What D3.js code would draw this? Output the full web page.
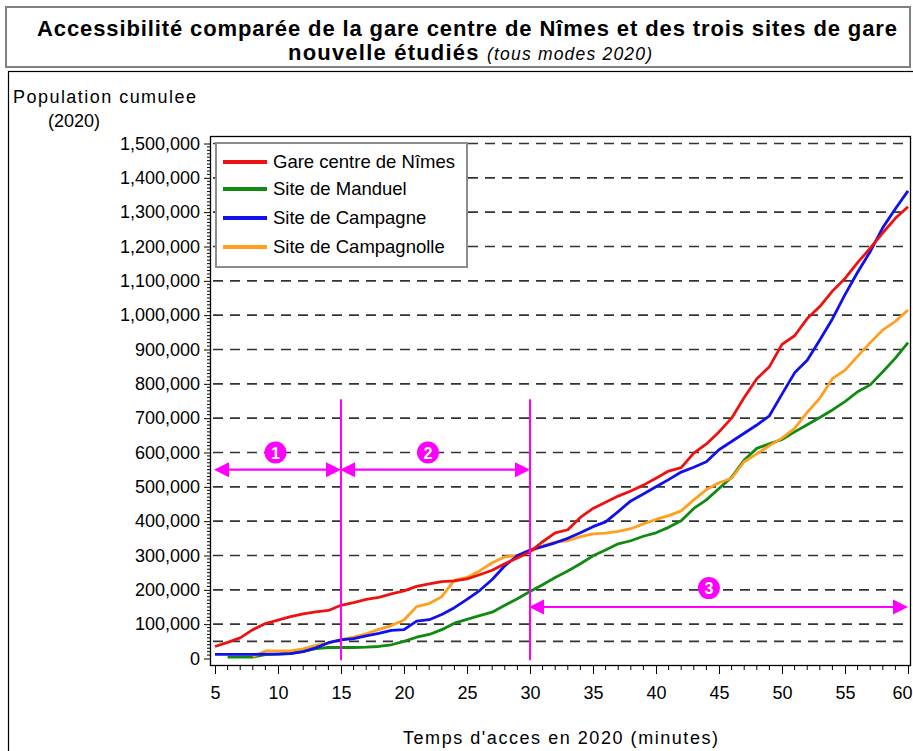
<!DOCTYPE html>
<html><head><meta charset="utf-8">
<script src="https://cdn.jsdelivr.net/npm/d3@7"></script>
<style>
html,body{margin:0;padding:0;background:#fff;}
svg{display:block;font-family:"Liberation Sans",Arial,sans-serif;}
</style></head>
<body>
<svg id="chart" width="913" height="751"></svg>
<script>
// ---- data ----
const minutes = [5,6,7,8,9,10,11,12,13,14,15,16,17,18,19,20,21,22,23,24,25,26,27,28,29,30,31,32,33,34,35,36,37,38,39,40,41,42,43,44,45,46,47,48,49,50,51,52,53,54,55,56,57,58,59,60];
const gareNimes = [35,47,60,84,102,112,122,130,136,140,155,163,172,178,188,197,210,217,224,226,232,244,257,276,293,311,340,366,375,411,437,455,473,488,505,525,546,556,598,625,660,700,760,815,850,915,940,990,1025,1070,1107,1153,1195,1240,1282,1316];
const manduel = [null,4,4,4,11,13,15,21,29,32,32,32,33,35,40,50,62,70,84,103,114,125,135,155,174,195,215,236,255,276,299,316,334,343,356,366,382,401,437,462,495,528,578,612,625,638,660,681,702,724,748,777,797,835,875,920];
const campagne = [12,12,12,12,13,13,14,20,31,46,54,58,66,73,82,84,109,113,128,148,172,198,230,270,300,316,326,337,350,366,384,398,428,459,479,500,521,543,557,573,608,632,656,680,707,770,832,869,928,989,1060,1125,1185,1255,1310,1362];
const campagnolle = [null,null,null,5,22,22,22,28,38,45,55,62,72,85,96,112,151,160,180,228,236,255,279,296,300,311,328,339,343,355,363,365,370,378,392,405,416,430,462,492,512,525,573,596,620,642,670,717,758,815,840,880,920,957,982,1015];
const seriesNames = ["Gare centre de Nîmes","Site de Manduel","Site de Campagne","Site de Campagnolle"];
const seriesColors = ["#ee1111","#108a10","#1010ee","#ffa020"];
const seriesValues = [gareNimes, manduel, campagne, campagnolle];
const yTicks = [0,100000,200000,300000,400000,500000,600000,700000,800000,900000,1000000,1100000,1200000,1300000,1400000,1500000];
const gridValues = [50000,100000,200000,300000,400000,500000,600000,700000,800000,900000,1000000,1100000,1200000,1300000,1400000,1500000];
const xTicks = [5,10,15,20,25,30,35,40,45,50,55,60];
const zoneBounds = [15,30];          // vertical separators (minutes)
const zoneArrows = [[5,15,550000],[15,30,550000],[30,60,150000]];
const zoneLabels = [["1",9.8,600000],["2",21.9,600000],["3",44.2,205000]];

// ---- layout ----
const svg = d3.select("#chart");
const frame = {left:210, right:910, top:136, bottom:665};
const x = d3.scaleLinear().domain([5,60]).range([215,908]);
const y = d3.scaleLinear().domain([0,1500000]).range([658.5,143.5]);
const MAG = "#ff00ff";

// title box
svg.append("rect").attr("x",6).attr("y",7).attr("width",904).attr("height",60)
  .attr("fill","#fff").attr("stroke","#808080").attr("stroke-width",2);
svg.append("text").attr("x",37).attr("y",36)
  .attr("font-size",22).attr("font-weight","bold").attr("fill","#000")
  .attr("textLength",860).attr("lengthAdjust","spacing")
  .text("Accessibilité comparée de la gare centre de Nîmes et des trois sites de gare");
const t2 = svg.append("text").attr("x",288).attr("y",60).attr("font-size",22).attr("fill","#000")
  .attr("textLength",364).attr("lengthAdjust","spacing");
t2.append("tspan").attr("font-weight","bold").text("nouvelle étudiés ");
t2.append("tspan").attr("font-style","italic").attr("font-size",17.5).text("(tous modes 2020)");

// panel box
svg.append("rect").attr("x",8.5).attr("y",71.5).attr("width",930).attr("height",700)
  .attr("fill","none").attr("stroke","#000").attr("stroke-width",1.2);

// y title
svg.append("text").attr("x",13).attr("y",103).attr("font-size",18).attr("textLength",183).attr("lengthAdjust","spacing").text("Population cumulee");
svg.append("text").attr("x",48).attr("y",127).attr("font-size",18).text("(2020)");

// grid
svg.append("g").selectAll("line").data(gridValues).join("line")
  .attr("x1",213).attr("x2",908).attr("y1",d=>y(d)).attr("y2",d=>y(d))
  .attr("stroke","#333").attr("stroke-width",1.6).attr("stroke-dasharray","10,7");

// y axis
const yAxis = d3.axisLeft(y).tickValues(yTicks).tickSize(6).tickPadding(4).tickFormat(d3.format(","));
const yg = svg.append("g").attr("transform",`translate(${frame.left},0)`).call(yAxis);
yg.select(".domain").remove();
yg.selectAll("text").attr("font-size",18).attr("font-family","Liberation Sans, Arial, sans-serif").attr("fill","#000");
yg.selectAll("line").attr("stroke","#000");
// minor y ticks every 10,000
const yMinor = d3.range(0,1500001,10000).filter(v=>v%100000!==0);
svg.append("g").selectAll("line").data(yMinor).join("line")
  .attr("x1",frame.left-3).attr("x2",frame.left).attr("y1",d=>y(d)).attr("y2",d=>y(d))
  .attr("stroke","#000").attr("stroke-width",1);

// x axis
const xAxis = d3.axisBottom(x).tickValues(xTicks).tickSize(9).tickPadding(12).tickFormat(d3.format("d"));
const xg = svg.append("g").attr("transform",`translate(0,${frame.bottom})`).call(xAxis);
xg.select(".domain").remove();
xg.selectAll("text").attr("font-size",18).attr("font-family","Liberation Sans, Arial, sans-serif").attr("fill","#000");
xg.selectAll("line").attr("stroke","#000");
// keep the last label (60) inside the window
xg.selectAll(".tick").filter(d=>d===60).select("text").attr("text-anchor","end").attr("dx",4);
svg.append("g").selectAll("line").data(minutes.filter(m=>m%5!==0)).join("line")
  .attr("x1",d=>x(d)).attr("x2",d=>x(d)).attr("y1",frame.bottom).attr("y2",frame.bottom+5)
  .attr("stroke","#000").attr("stroke-width",1);

svg.append("text").attr("x",403).attr("y",744).attr("font-size",18)
  .attr("textLength",315).attr("lengthAdjust","spacing").text("Temps d'acces en 2020 (minutes)");

// frame
svg.append("rect").attr("x",frame.left+0.5).attr("y",frame.top+0.5)
  .attr("width",frame.right-frame.left).attr("height",frame.bottom-frame.top)
  .attr("fill","none").attr("stroke","#000").attr("stroke-width",1.3);

// series
const line = d3.line().defined(d=>d[1]!=null).x(d=>x(d[0])).y(d=>y(d[1]*1000));
const drawOrder = [1,3,2,0];
drawOrder.forEach(i=>{
  svg.append("path").datum(minutes.map((m,k)=>[m,seriesValues[i][k]]))
    .attr("d",line).attr("fill","none").attr("stroke",seriesColors[i])
    .attr("stroke-width",2.8).attr("stroke-linejoin","round");
});

// zone markers
svg.append("g").selectAll("line").data(zoneBounds).join("line")
  .attr("x1",d=>x(d)).attr("x2",d=>x(d)).attr("y1",y(-5000)).attr("y2",y(755000))
  .attr("stroke",MAG).attr("stroke-width",2);
zoneArrows.forEach(([a,b,v])=>{
  const x1 = x(a)-1, x2 = x(b), yy = y(v);
  svg.append("line").attr("x1",x1+12).attr("x2",x2-12).attr("y1",yy).attr("y2",yy)
    .attr("stroke",MAG).attr("stroke-width",2.2);
  svg.append("path").attr("d",`M${x1},${yy} L${x1+15},${yy-7.5} L${x1+15},${yy+7.5} Z`).attr("fill",MAG);
  svg.append("path").attr("d",`M${x2},${yy} L${x2-15},${yy-7.5} L${x2-15},${yy+7.5} Z`).attr("fill",MAG);
});
zoneLabels.forEach(([t,m,v])=>{
  svg.append("circle").attr("cx",x(m)).attr("cy",y(v)).attr("r",11).attr("fill",MAG);
  svg.append("text").attr("x",x(m)).attr("y",y(v)+6).attr("text-anchor","middle")
    .attr("font-size",16).attr("font-weight","bold").attr("fill","#fff").text(t);
});

// legend
const lg = svg.append("g");
lg.append("rect").attr("x",216).attr("y",143).attr("width",251).attr("height",124)
  .attr("fill","#fff").attr("stroke","#8c8c8c").attr("stroke-width",2);
const rows = [162,189,218,247];
seriesNames.forEach((n,i)=>{
  lg.append("line").attr("x1",223).attr("x2",267).attr("y1",rows[i]).attr("y2",rows[i])
    .attr("stroke",seriesColors[i]).attr("stroke-width",4);
  lg.append("text").attr("x",273).attr("y",rows[i]+6).attr("font-size",18.5).attr("fill","#000").text(n);
});
</script>
</body></html>
